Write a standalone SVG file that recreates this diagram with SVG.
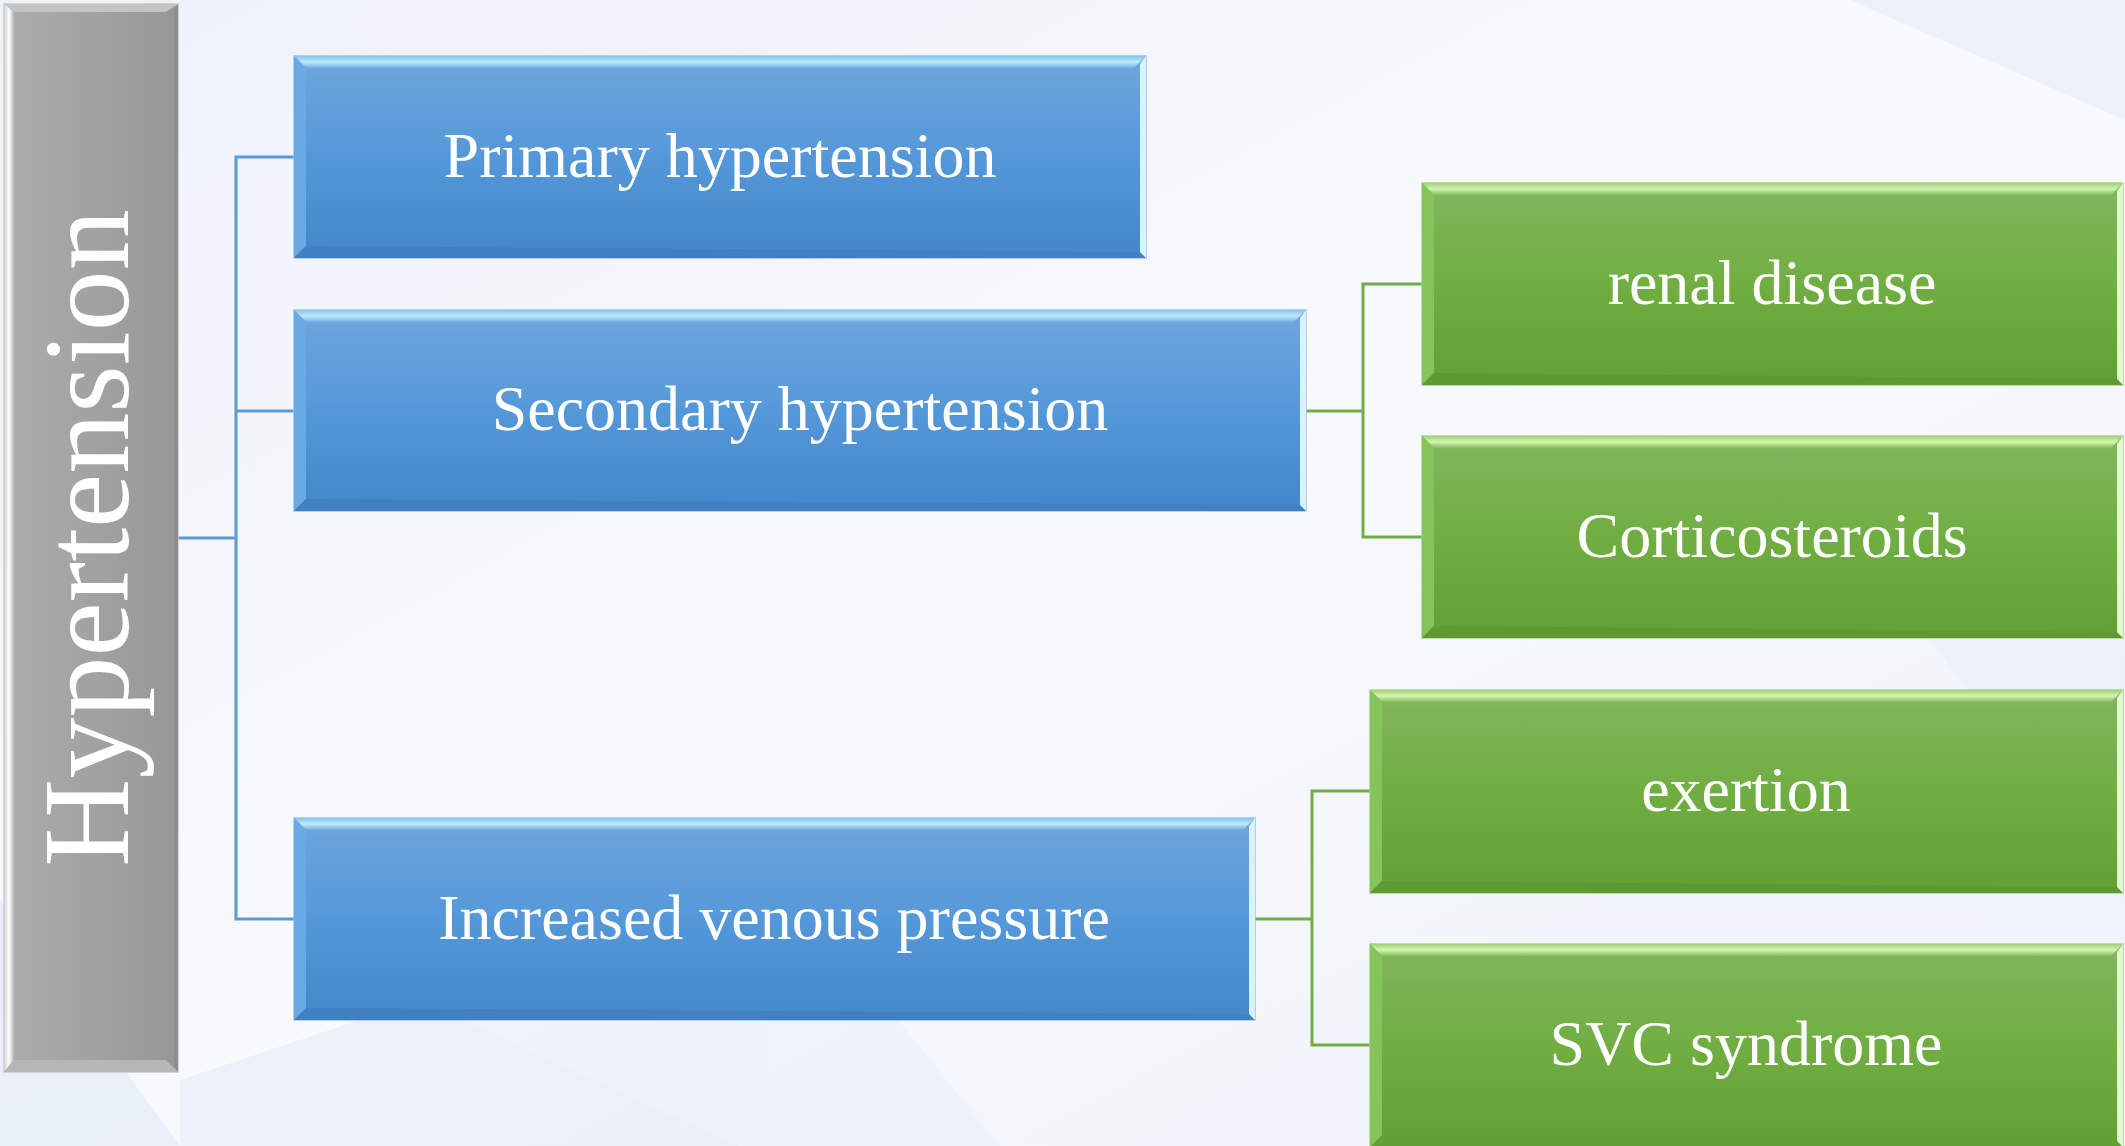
<svg xmlns="http://www.w3.org/2000/svg" width="2125" height="1146" viewBox="0 0 2125 1146">
<defs>
<linearGradient id="bg" x1="0" y1="0" x2="1" y2="1">
<stop offset="0" stop-color="#eef2fa"/><stop offset="0.5" stop-color="#f8f9fd"/><stop offset="1" stop-color="#eef2fa"/>
</linearGradient>
<linearGradient id="gBlue" x1="0" y1="0" x2="0" y2="1">
<stop offset="0" stop-color="#70a6dc"/><stop offset="0.5" stop-color="#5598d9"/><stop offset="1" stop-color="#4487c8"/>
</linearGradient>
<linearGradient id="gBlueTop" x1="0" y1="0" x2="0" y2="1">
<stop offset="0" stop-color="#86c3ee"/><stop offset="0.5" stop-color="#bde9fb"/><stop offset="1" stop-color="#72ade3"/>
</linearGradient>
<linearGradient id="gGreen" x1="0" y1="0" x2="0" y2="1">
<stop offset="0" stop-color="#82b65f"/><stop offset="0.5" stop-color="#70ae42"/><stop offset="1" stop-color="#62a034"/>
</linearGradient>
<linearGradient id="gGreenTop" x1="0" y1="0" x2="0" y2="1">
<stop offset="0" stop-color="#9fd178"/><stop offset="0.5" stop-color="#d2f5ae"/><stop offset="1" stop-color="#86bd60"/>
</linearGradient>
<linearGradient id="gGray" x1="0" y1="0" x2="1" y2="0">
<stop offset="0" stop-color="#adadad"/><stop offset="1" stop-color="#979797"/>
</linearGradient>
<linearGradient id="gGrayLeft" x1="0" y1="0" x2="1" y2="0">
<stop offset="0" stop-color="#d0d0d0"/><stop offset="0.5" stop-color="#ffffff"/><stop offset="1" stop-color="#b4b4b4"/>
</linearGradient>
</defs>
<style>
.lbl{font-family:"Liberation Serif","Times New Roman",serif;fill:#ffffff;text-anchor:middle;}
.blue{fill:url(#gBlue);stroke:#9cc3e8;stroke-width:1.5;}
.bTop{fill:url(#gBlueTop);}
.bLeft{fill:#68a9e6;}
.bRight{fill:#d8f3fd;}
.bBot{fill:#4181c2;}
.green{fill:url(#gGreen);stroke:#acd48f;stroke-width:1.5;}
.gTop{fill:url(#gGreenTop);}
.gLeft{fill:#84c45a;}
.gRight{fill:#e2f8cf;}
.gBot{fill:#5d9a31;}
.cb{fill:none;stroke:#5b9bd5;stroke-width:3;}
.cg{fill:none;stroke:#70ad47;stroke-width:3;}
</style>
<rect x="0" y="0" width="2125" height="1146" fill="url(#bg)"/>
<g opacity="0.4">
<polygon points="0,900 180,1146 0,1146" fill="#d7e3f4"/>
<polygon points="180,1080 420,1000 740,1146 180,1146" fill="#dfe8f6"/>
<polygon points="420,1000 760,850 1000,1146 740,1146" fill="#e6edf8"/>
<polygon points="1850,0 2125,0 2125,120" fill="#dce5f6"/>
<polygon points="1900,600 2125,560 2125,900" fill="#e3eaf7"/>
<polygon points="240,0 900,0 600,120" fill="#f0f3fa"/>
</g>

<g id="connectors">
<polyline class="cb" points="178,538 236,538"/>
<polyline class="cb" points="294,157 236,157 236,919 294,919"/>
<polyline class="cb" points="236,411 294,411"/>
<polyline class="cg" points="1306,411 1363,411"/>
<polyline class="cg" points="1422,284 1363,284 1363,537 1422,537"/>
<polyline class="cg" points="1255,919 1312,919"/>
<polyline class="cg" points="1370,791 1312,791 1312,1045 1370,1045"/>
</g>

<g id="node-hypertension">
<rect x="4" y="4" width="174" height="1068" fill="url(#gGray)" stroke="#c8c8c8" stroke-width="1.5"/>
<polygon points="4,4 178,4 166,12 14,12" fill="#c4c4c4"/>
<polygon points="4,4 14,12 14,1060 4,1072" fill="url(#gGrayLeft)"/>
<polygon points="4,1072 178,1072 166,1060 14,1060" fill="#b6b6b6"/>
<polygon points="178,4 178,1072 174,1066 174,10" fill="#8e8e8e"/>
<text class="lbl" font-size="122" transform="translate(128,538) rotate(-90)">Hypertension</text>
</g>

<g id="node-primary">
<rect class="blue" x="294" y="56" width="852" height="202"/>
<polygon class="bTop" points="294,56 1146,56 1134,68 306,68"/>
<polygon class="bLeft" points="294,56 306,68 306,246 294,258"/>
<polygon class="bBot" points="294,258 1146,258 1140,252 306,246"/>
<polygon class="bRight" points="1146,56 1146,258 1140,252 1140,64"/>
<text class="lbl" font-size="64" x="720" y="177">Primary hypertension</text>
</g>

<g id="node-secondary">
<rect class="blue" x="294" y="310" width="1012" height="201"/>
<polygon class="bTop" points="294,310 1306,310 1294,322 306,322"/>
<polygon class="bLeft" points="294,310 306,322 306,499 294,511"/>
<polygon class="bBot" points="294,511 1306,511 1300,505 306,499"/>
<polygon class="bRight" points="1306,310 1306,511 1300,505 1300,318"/>
<text class="lbl" font-size="64" x="800" y="430">Secondary hypertension</text>
</g>

<g id="node-venous">
<rect class="blue" x="294" y="818" width="961" height="202"/>
<polygon class="bTop" points="294,818 1255,818 1243,830 306,830"/>
<polygon class="bLeft" points="294,818 306,830 306,1008 294,1020"/>
<polygon class="bBot" points="294,1020 1255,1020 1249,1014 306,1008"/>
<polygon class="bRight" points="1255,818 1255,1020 1249,1014 1249,826"/>
<text class="lbl" font-size="64" x="774" y="939">Increased venous pressure</text>
</g>

<g id="node-renal">
<rect class="green" x="1422" y="183" width="701" height="202"/>
<polygon class="gTop" points="1422,183 2123,183 2111,195 1434,195"/>
<polygon class="gLeft" points="1422,183 1434,195 1434,373 1422,385"/>
<polygon class="gBot" points="1422,385 2123,385 2117,379 1434,373"/>
<polygon class="gRight" points="2123,183 2123,385 2117,379 2117,191"/>
<text class="lbl" font-size="64" x="1772" y="304">renal disease</text>
</g>

<g id="node-cortico">
<rect class="green" x="1422" y="436" width="701" height="202"/>
<polygon class="gTop" points="1422,436 2123,436 2111,448 1434,448"/>
<polygon class="gLeft" points="1422,436 1434,448 1434,626 1422,638"/>
<polygon class="gBot" points="1422,638 2123,638 2117,632 1434,626"/>
<polygon class="gRight" points="2123,436 2123,638 2117,632 2117,444"/>
<text class="lbl" font-size="64" x="1772" y="557">Corticosteroids</text>
</g>

<g id="node-exertion">
<rect class="green" x="1370" y="690" width="753" height="203"/>
<polygon class="gTop" points="1370,690 2123,690 2111,702 1382,702"/>
<polygon class="gLeft" points="1370,690 1382,702 1382,881 1370,893"/>
<polygon class="gBot" points="1370,893 2123,893 2117,887 1382,881"/>
<polygon class="gRight" points="2123,690 2123,893 2117,887 2117,698"/>
<text class="lbl" font-size="64" x="1746" y="811">exertion</text>
</g>

<g id="node-svc">
<rect class="green" x="1370" y="944" width="753" height="203"/>
<polygon class="gTop" points="1370,944 2123,944 2111,956 1382,956"/>
<polygon class="gLeft" points="1370,944 1382,956 1382,1135 1370,1147"/>
<polygon class="gRight" points="2123,944 2123,1147 2117,1141 2117,952"/>
<text class="lbl" font-size="64" x="1746" y="1065">SVC syndrome</text>
</g>
</svg>
